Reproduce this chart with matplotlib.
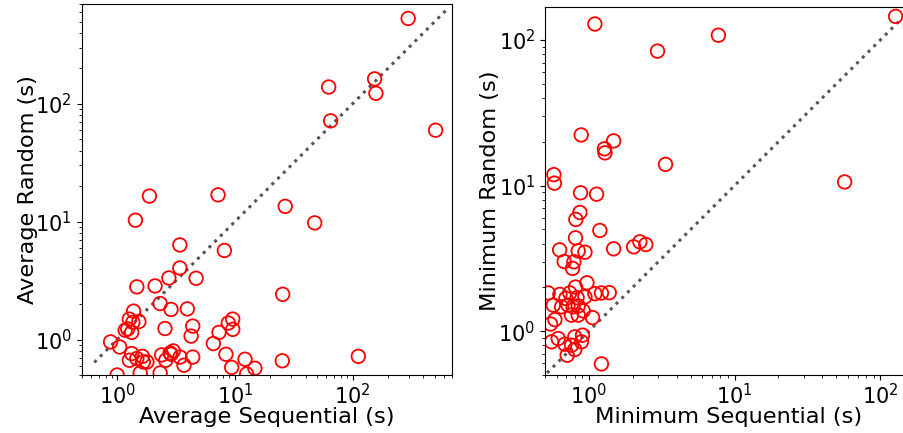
import matplotlib
matplotlib.use("Agg")
import matplotlib.pyplot as plt

# Average timings (seconds): sequential vs random access
avg_seq = [297, 154, 158, 62.7, 65.2, 508, 1.88, 7.2,
           1.43, 26.8, 47.7, 3.41, 8.15, 3.41, 2.75, 4.69, 1.47, 2.10,
           25.5, 2.32, 1.38, 2.87, 3.95, 1.27, 1.53, 1.36, 1.17, 1.23, 1.33,
           2.55, 4.39, 4.25, 9.6, 8.8, 9.6, 7.34, 6.57, 0.88, 1.05,
           8.4, 12.2, 25.3, 112, 9.4, 14.8, 12.6, 1.0, 1.57, 2.32,
           1.33, 1.27, 1.47, 1.64, 1.79, 1.67, 2.39, 2.59, 2.82, 3.0,
           2.87, 3.42, 3.7, 4.39]
avg_rand = [531, 163, 123, 139, 71.8, 59.8, 16.5, 16.9,
            10.3, 13.5, 9.77, 6.35, 5.70, 4.05, 3.33, 3.31, 2.80, 2.85,
            2.42, 2.02, 1.74, 1.80, 1.82, 1.49, 1.42, 1.40, 1.20, 1.23, 1.15,
            1.24, 1.30, 1.07, 1.49, 1.38, 1.22, 1.15, 0.925, 0.955, 0.865,
            0.75, 0.68, 0.66, 0.72, 0.58, 0.57, 0.51, 0.50, 0.52, 0.52,
            0.76, 0.667, 0.69, 0.72, 0.645, 0.645, 0.74, 0.667, 0.77, 0.80,
            0.75, 0.71, 0.605, 0.71]

# Minimum timings (seconds): sequential vs random access
min_seq = [127.6, 1.10, 7.75, 2.96, 0.886, 1.48, 1.28, 1.29, 3.36,
           0.575, 0.58, 57, 0.877, 1.13, 0.868, 0.814, 1.19, 0.81,
           0.63, 0.845, 0.94, 1.48, 2.03, 2.24, 2.46, 0.677, 0.79, 0.773,
           0.97, 0.81, 0.526, 0.633, 0.74, 0.83, 0.94, 1.10, 1.22, 1.38,
           0.695, 0.57, 0.65, 0.72, 0.78, 0.845, 0.914, 0.76, 0.845, 1.06,
           0.585, 0.546, 0.555, 0.616, 0.685, 0.80, 0.905, 0.89, 0.80,
           0.71, 0.76, 1.22]
min_rand = [145.5, 129, 108, 84, 22.3, 20.3, 17.9, 16.8, 14.0,
            11.9, 10.4, 10.6, 8.93, 8.74, 6.54, 5.86, 4.92, 4.38,
            3.62, 3.56, 3.49, 3.68, 3.80, 4.11, 3.94, 3.01, 3.0, 2.70,
            2.15, 2.01, 1.83, 1.79, 1.83, 1.70, 1.72, 1.81, 1.83, 1.84,
            1.68, 1.51, 1.47, 1.51, 1.47, 1.49, 1.38, 1.29, 1.29, 1.24,
            1.20, 1.12, 0.845, 0.89, 0.814, 0.914, 0.939, 0.845, 0.748,
            0.684, 0.80, 0.596]

# Axis ranges and y = x reference segments
avg_lim = [0.5, 700]
avg_diag = [0.64, 647]
min_lim = [0.5, 168]
min_diag = [0.517, 145]

W, H = 904, 433
fig = plt.figure(figsize=(W / 100, H / 100), dpi=100)
plt.rcParams["font.family"] = ["DejaVu Sans"]

ax1 = fig.add_axes([81.7 / W, 58 / H, 370.3 / W, 370.7 / H])
ax2 = fig.add_axes([545 / W, 58 / H, 368 / W, 367.7 / H])

panels = [
    (ax1, avg_seq, avg_rand, avg_lim, avg_diag,
     "Average Sequential (s)", "Average Random (s)", -0.118),
    (ax2, min_seq, min_rand, min_lim, min_diag,
     "Minimum Sequential (s)", "Minimum Random (s)", -0.122),
]

for ax, xs, ys, lim, diag, xl, yl, ylx in panels:
    ax.set_xscale("log")
    ax.set_yscale("log")
    ax.plot(diag, diag, linestyle=":", color="#555555", lw=2.2, zorder=1)
    ax.scatter(xs, ys, s=95, facecolors="none", edgecolors="red",
               linewidths=1.3, zorder=2)
    ax.set_xlim(lim)
    ax.set_ylim(lim)
    ax.set_xlabel(xl, fontsize=16.2)
    ax.set_ylabel(yl, fontsize=16.2)
    ax.xaxis.set_label_coords(0.5, -0.087)
    ax.yaxis.set_label_coords(ylx, 0.5)
    ax.tick_params(axis="both", which="major", labelsize=15)
    ax.tick_params(axis="x", which="major", pad=2.5)

fig.savefig("out.png", dpi=100)
